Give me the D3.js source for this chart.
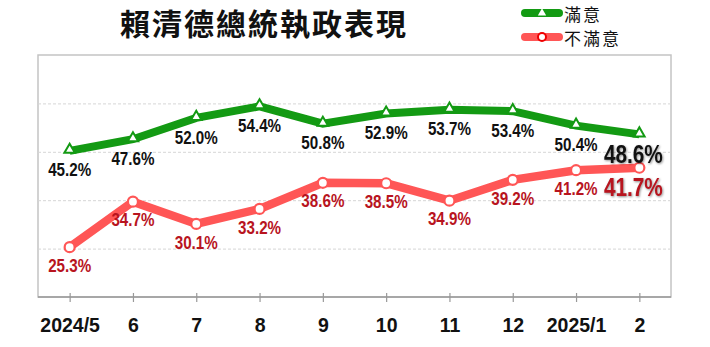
<!DOCTYPE html>
<html>
<head>
<meta charset="utf-8">
<script src="https://cdn.jsdelivr.net/npm/d3@7"></script>
<style>
  body { margin: 0; background: #fff; }
  svg { display: block; }
  .val { font-family: 'Liberation Sans', Arial, sans-serif; font-weight: bold; }
</style>
</head>
<body>
<svg id="chart" width="710" height="347"></svg>
<script>
// chart data
const months = ["2024/5", "6", "7", "8", "9", "10", "11", "12", "2025/1", "2"];
const satisfied = [45.2, 47.6, 52.0, 54.4, 50.8, 52.9, 53.7, 53.4, 50.4, 48.6];
const dissatisfied = [25.3, 34.7, 30.1, 33.2, 38.6, 38.5, 34.9, 39.2, 41.2, 41.7];
const gridTicks = [25, 35, 45, 55];
const seriesNames = ["滿意", "不滿意"];
const title = "賴清德總統執政表現";

const svg = d3.select("#chart");

const plotLeft = 38, plotRight = 671, plotTop = 55, plotBottom = 297;
const green = "#139a13", red = "#ff5656", darkRed = "#b8141e";

const x = d3.scalePoint().domain(months).range([plotLeft, plotRight]).padding(0.5);
const y = d3.scaleLinear().domain([15, 65]).range([plotBottom, plotTop]);

// plot frame
svg.append("rect")
  .attr("x", plotLeft).attr("y", plotTop)
  .attr("width", plotRight - plotLeft).attr("height", plotBottom - plotTop)
  .attr("fill", "#fff")
  .attr("stroke", "#c4c4c4")
  .attr("stroke-width", 1.5);

// gridlines
const grid = svg.append("g")
  .attr("transform", `translate(${plotLeft},0)`)
  .call(d3.axisLeft(y).tickValues(gridTicks).tickSize(-(plotRight - plotLeft)).tickFormat(""));
grid.select(".domain").remove();
grid.selectAll(".tick line")
  .attr("stroke", "#d6d6d6")
  .attr("stroke-dasharray", "3,2");

// x axis
const xAxis = svg.append("g")
  .attr("transform", `translate(0,${plotBottom})`)
  .call(d3.axisBottom(x).tickSize(5).tickPadding(16));
xAxis.select(".domain")
  .attr("d", `M${plotLeft},0H${plotRight}`)
  .attr("stroke", "#999")
  .attr("stroke-width", 1.5);
xAxis.selectAll(".tick line")
  .attr("y1", -4).attr("y2", 5)
  .attr("stroke", "#999")
  .attr("stroke-width", 1.2);
xAxis.selectAll(".tick text")
  .attr("fill", "#111")
  .style("font-family", "'Liberation Sans', Arial, sans-serif")
  .style("font-weight", "bold")
  .style("font-size", "19.5px");

const line = d3.line()
  .x((d, i) => x(months[i]))
  .y(d => y(d));

const triangle = d3.symbol().type(d3.symbolTriangle).size(48);

function drawSeries(values, color, width) {
  svg.append("path")
    .datum(values)
    .attr("d", line)
    .attr("fill", "none")
    .attr("stroke", color)
    .attr("stroke-width", width)
    .attr("stroke-linejoin", "miter");
}

drawSeries(satisfied, green, 8);
drawSeries(dissatisfied, red, 8.5);

// markers
svg.selectAll(".tri")
  .data(satisfied)
  .enter()
  .append("path")
  .attr("d", triangle)
  .attr("transform", (d, i) => `translate(${x(months[i])},${y(d) - 1})`)
  .attr("fill", "#fff")
  .attr("stroke", green)
  .attr("stroke-width", 2);

svg.selectAll(".dot")
  .data(dissatisfied)
  .enter()
  .append("circle")
  .attr("cx", (d, i) => x(months[i]))
  .attr("cy", d => y(d))
  .attr("r", 5)
  .attr("fill", "#fff")
  .attr("stroke", red)
  .attr("stroke-width", 2.2);

// value labels (condensed by a horizontal scale)
const last = months.length - 1;
function drawLabels(values, color, offset) {
  svg.selectAll(null)
    .data(values)
    .enter()
    .append("text")
    .attr("class", "val")
    .attr("transform", (d, i) => {
      const lx = x(months[i]) + (i === last ? -6 : 0);
      const ly = y(d) + offset + (i === last ? 1 : 0);
      return `translate(${lx},${ly}) scale(0.8,1)`;
    })
    .attr("dy", "0.35em")
    .attr("text-anchor", "middle")
    .attr("fill", color)
    .style("font-size", (d, i) => i === last ? "26px" : "19px")
    .style("filter", (d, i) => i === last ? "drop-shadow(1px 1px 1px rgba(0,0,0,0.45))" : null)
    .text(d => d.toFixed(1) + "%");
}
drawLabels(satisfied, "#111", 19);
drawLabels(dissatisfied, darkRed, 18);

// title
svg.append("text")
  .attr("x", 264)
  .attr("y", 35)
  .attr("text-anchor", "middle")
  .style("font-family", "'Noto Sans CJK TC', sans-serif")
  .style("font-weight", "bold")
  .style("font-size", "30px")
  .style("letter-spacing", "2px")
  .attr("fill", "#111")
  .text(title);

// legend
const legend = svg.append("g");
const legendRows = [
  { name: seriesNames[0], color: green, y: 13, marker: "tri" },
  { name: seriesNames[1], color: red, y: 37, marker: "dot" }
];
legendRows.forEach(r => {
  legend.append("line")
    .attr("x1", 525).attr("x2", 559)
    .attr("y1", r.y).attr("y2", r.y)
    .attr("stroke", r.color)
    .attr("stroke-width", 8)
    .attr("stroke-linecap", "round");
  if (r.marker === "tri") {
    legend.append("path")
      .attr("d", d3.symbol().type(d3.symbolTriangle).size(30))
      .attr("transform", `translate(542,${r.y})`)
      .attr("fill", "#fff");
  } else {
    legend.append("circle")
      .attr("cx", 542).attr("cy", r.y).attr("r", 4)
      .attr("fill", "#fff")
      .attr("stroke", "#e00")
      .attr("stroke-width", 2);
  }
  legend.append("text")
    .attr("x", 564)
    .attr("y", r.y + 2)
    .attr("dy", "0.36em")
    .style("font-family", "'Noto Sans CJK TC', sans-serif")
    .style("font-size", "17px")
    .style("letter-spacing", "2px")
    .attr("fill", "#111")
    .text(r.name);
});
</script>
</body>
</html>
